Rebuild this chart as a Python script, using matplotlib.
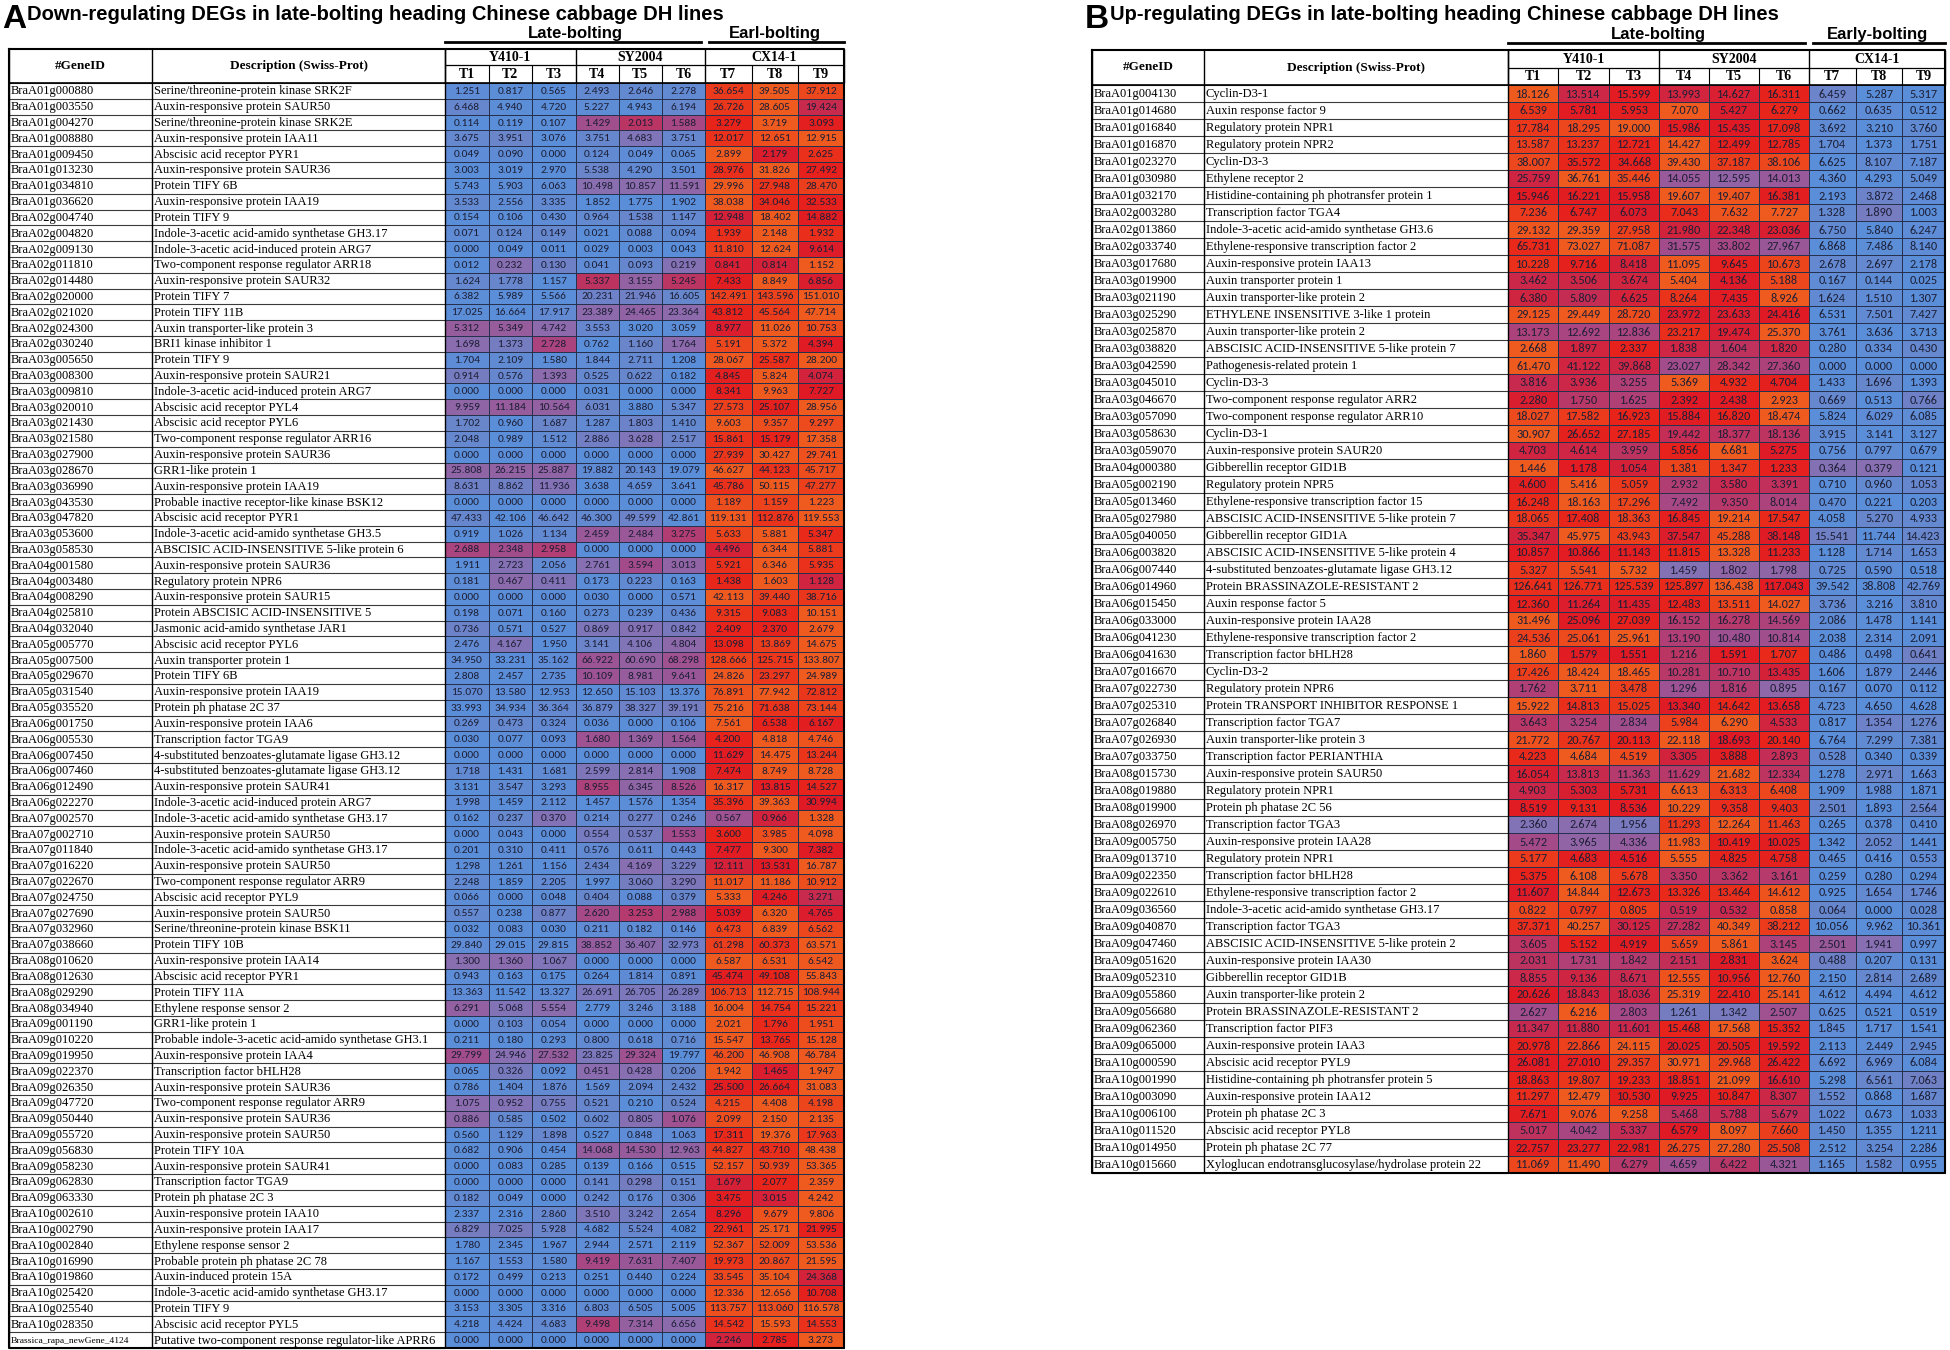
import numpy as np
import matplotlib.pyplot as plt
from matplotlib import font_manager
from matplotlib.colors import LinearSegmentedColormap

# ---------------- data ----------------
samples = ['T1', 'T2', 'T3', 'T4', 'T5', 'T6', 'T7', 'T8', 'T9']
lines = ['Y410-1', 'SY2004', 'CX14-1']

left_ids = [
    'BraA01g000880', 'BraA01g003550', 'BraA01g004270', 'BraA01g008880', 'BraA01g009450',
    'BraA01g013230', 'BraA01g034810', 'BraA01g036620', 'BraA02g004740', 'BraA02g004820',
    'BraA02g009130', 'BraA02g011810', 'BraA02g014480', 'BraA02g020000', 'BraA02g021020',
    'BraA02g024300', 'BraA02g030240', 'BraA03g005650', 'BraA03g008300', 'BraA03g009810',
    'BraA03g020010', 'BraA03g021430', 'BraA03g021580', 'BraA03g027900', 'BraA03g028670',
    'BraA03g036990', 'BraA03g043530', 'BraA03g047820', 'BraA03g053600', 'BraA03g058530',
    'BraA04g001580', 'BraA04g003480', 'BraA04g008290', 'BraA04g025810', 'BraA04g032040',
    'BraA05g005770', 'BraA05g007500', 'BraA05g029670', 'BraA05g031540', 'BraA05g035520',
    'BraA06g001750', 'BraA06g005530', 'BraA06g007450', 'BraA06g007460', 'BraA06g012490',
    'BraA06g022270', 'BraA07g002570', 'BraA07g002710', 'BraA07g011840', 'BraA07g016220',
    'BraA07g022670', 'BraA07g024750', 'BraA07g027690', 'BraA07g032960', 'BraA07g038660',
    'BraA08g010620', 'BraA08g012630', 'BraA08g029290', 'BraA08g034940', 'BraA09g001190',
    'BraA09g010220', 'BraA09g019950', 'BraA09g022370', 'BraA09g026350', 'BraA09g047720',
    'BraA09g050440', 'BraA09g055720', 'BraA09g056830', 'BraA09g058230', 'BraA09g062830',
    'BraA09g063330', 'BraA10g002610', 'BraA10g002790', 'BraA10g002840', 'BraA10g016990',
    'BraA10g019860', 'BraA10g025420', 'BraA10g025540', 'BraA10g028350',
    'Brassica_rapa_newGene_4124']

left_desc = [
    'Serine/threonine-protein kinase SRK2F', 'Auxin-responsive protein SAUR50',
    'Serine/threonine-protein kinase SRK2E', 'Auxin-responsive protein IAA11',
    'Abscisic acid receptor PYR1', 'Auxin-responsive protein SAUR36', 'Protein TIFY 6B',
    'Auxin-responsive protein IAA19', 'Protein TIFY 9',
    'Indole-3-acetic acid-amido synthetase GH3.17', 'Indole-3-acetic acid-induced protein ARG7',
    'Two-component response regulator ARR18', 'Auxin-responsive protein SAUR32', 'Protein TIFY 7',
    'Protein TIFY 11B', 'Auxin transporter-like protein 3', 'BRI1 kinase inhibitor 1',
    'Protein TIFY 9', 'Auxin-responsive protein SAUR21', 'Indole-3-acetic acid-induced protein ARG7',
    'Abscisic acid receptor PYL4', 'Abscisic acid receptor PYL6',
    'Two-component response regulator ARR16', 'Auxin-responsive protein SAUR36',
    'GRR1-like protein 1', 'Auxin-responsive protein IAA19',
    'Probable inactive receptor-like kinase BSK12', 'Abscisic acid receptor PYR1',
    'Indole-3-acetic acid-amido synthetase GH3.5', 'ABSCISIC ACID-INSENSITIVE 5-like protein 6',
    'Auxin-responsive protein SAUR36', 'Regulatory protein NPR6', 'Auxin-responsive protein SAUR15',
    'Protein ABSCISIC ACID-INSENSITIVE 5', 'Jasmonic acid-amido synthetase JAR1',
    'Abscisic acid receptor PYL6', 'Auxin transporter protein 1', 'Protein TIFY 6B',
    'Auxin-responsive protein IAA19', 'Protein ph phatase 2C 37', 'Auxin-responsive protein IAA6',
    'Transcription factor TGA9', '4-substituted benzoates-glutamate ligase GH3.12',
    '4-substituted benzoates-glutamate ligase GH3.12', 'Auxin-responsive protein SAUR41',
    'Indole-3-acetic acid-induced protein ARG7', 'Indole-3-acetic acid-amido synthetase GH3.17',
    'Auxin-responsive protein SAUR50', 'Indole-3-acetic acid-amido synthetase GH3.17',
    'Auxin-responsive protein SAUR50', 'Two-component response regulator ARR9',
    'Abscisic acid receptor PYL9', 'Auxin-responsive protein SAUR50',
    'Serine/threonine-protein kinase BSK11', 'Protein TIFY 10B', 'Auxin-responsive protein IAA14',
    'Abscisic acid receptor PYR1', 'Protein TIFY 11A', 'Ethylene response sensor 2',
    'GRR1-like protein 1', 'Probable indole-3-acetic acid-amido synthetase GH3.1',
    'Auxin-responsive protein IAA4', 'Transcription factor bHLH28', 'Auxin-responsive protein SAUR36',
    'Two-component response regulator ARR9', 'Auxin-responsive protein SAUR36',
    'Auxin-responsive protein SAUR50', 'Protein TIFY 10A', 'Auxin-responsive protein SAUR41',
    'Transcription factor TGA9', 'Protein ph phatase 2C 3', 'Auxin-responsive protein IAA10',
    'Auxin-responsive protein IAA17', 'Ethylene response sensor 2',
    'Probable protein ph phatase 2C 78', 'Auxin-induced protein 15A',
    'Indole-3-acetic acid-amido synthetase GH3.17', 'Protein TIFY 9', 'Abscisic acid receptor PYL5',
    'Putative two-component response regulator-like APRR6']

left_vals = [
    [1.251, 0.817, 0.565, 2.493, 2.646, 2.278, 36.654, 39.505, 37.912],
    [6.468, 4.940, 4.720, 5.227, 4.943, 6.194, 26.726, 28.605, 19.424],
    [0.114, 0.119, 0.107, 1.429, 2.013, 1.588, 3.279, 3.719, 3.093],
    [3.675, 3.951, 3.076, 3.751, 4.683, 3.751, 12.017, 12.651, 12.915],
    [0.049, 0.090, 0.000, 0.124, 0.049, 0.065, 2.899, 2.179, 2.625],
    [3.003, 3.019, 2.970, 5.538, 4.290, 3.501, 28.976, 31.826, 27.492],
    [5.743, 5.903, 6.063, 10.498, 10.857, 11.591, 29.996, 27.948, 28.470],
    [3.533, 2.556, 3.335, 1.852, 1.775, 1.902, 38.038, 34.046, 32.533],
    [0.154, 0.106, 0.430, 0.964, 1.538, 1.147, 12.948, 18.402, 14.882],
    [0.071, 0.124, 0.149, 0.021, 0.088, 0.094, 1.939, 2.148, 1.932],
    [0.000, 0.049, 0.011, 0.029, 0.003, 0.043, 11.810, 12.624, 9.614],
    [0.012, 0.232, 0.130, 0.041, 0.093, 0.219, 0.841, 0.814, 1.152],
    [1.624, 1.778, 1.157, 5.337, 3.155, 5.245, 7.433, 8.849, 6.856],
    [6.382, 5.989, 5.566, 20.231, 21.946, 16.605, 142.491, 143.596, 151.010],
    [17.025, 16.664, 17.917, 23.389, 24.465, 23.364, 43.812, 45.564, 47.714],
    [5.312, 5.349, 4.742, 3.553, 3.020, 3.059, 8.977, 11.026, 10.753],
    [1.698, 1.373, 2.728, 0.762, 1.160, 1.764, 5.191, 5.372, 4.394],
    [1.704, 2.109, 1.580, 1.844, 2.711, 1.208, 28.067, 25.587, 28.200],
    [0.914, 0.576, 1.393, 0.525, 0.622, 0.182, 4.845, 5.824, 4.074],
    [0.000, 0.000, 0.000, 0.031, 0.000, 0.000, 8.341, 9.963, 7.727],
    [9.959, 11.184, 10.564, 6.031, 3.880, 5.347, 27.573, 25.107, 28.956],
    [1.702, 0.960, 1.687, 1.287, 1.803, 1.410, 9.603, 9.357, 9.297],
    [2.048, 0.989, 1.512, 2.886, 3.628, 2.517, 15.861, 15.179, 17.358],
    [0.000, 0.000, 0.000, 0.000, 0.000, 0.000, 27.939, 30.427, 29.741],
    [25.808, 26.215, 25.887, 19.882, 20.143, 19.079, 46.627, 44.123, 45.717],
    [8.631, 8.862, 11.936, 3.638, 4.659, 3.641, 45.786, 50.115, 47.277],
    [0.000, 0.000, 0.000, 0.000, 0.000, 0.000, 1.189, 1.159, 1.223],
    [47.433, 42.106, 46.642, 46.300, 49.599, 42.861, 119.131, 112.876, 119.553],
    [0.919, 1.026, 1.134, 2.459, 2.484, 3.275, 5.633, 5.881, 5.347],
    [2.688, 2.348, 2.958, 0.000, 0.000, 0.000, 4.496, 6.344, 5.881],
    [1.911, 2.723, 2.056, 2.761, 3.594, 3.013, 5.921, 6.346, 5.935],
    [0.181, 0.467, 0.411, 0.173, 0.223, 0.163, 1.438, 1.603, 1.128],
    [0.000, 0.000, 0.000, 0.030, 0.000, 0.571, 42.113, 39.440, 38.716],
    [0.198, 0.071, 0.160, 0.273, 0.239, 0.436, 9.315, 9.083, 10.151],
    [0.736, 0.571, 0.527, 0.869, 0.917, 0.842, 2.409, 2.370, 2.679],
    [2.476, 4.167, 1.950, 3.141, 4.106, 4.804, 13.098, 13.869, 14.675],
    [34.950, 33.231, 35.162, 66.922, 60.690, 68.298, 128.666, 125.715, 133.807],
    [2.808, 2.457, 2.735, 10.109, 8.981, 9.641, 24.826, 23.297, 24.989],
    [15.070, 13.580, 12.953, 12.650, 15.103, 13.376, 76.891, 77.942, 72.812],
    [33.993, 34.934, 36.364, 36.879, 38.327, 39.191, 75.216, 71.638, 73.144],
    [0.269, 0.473, 0.324, 0.036, 0.000, 0.106, 7.561, 6.538, 6.167],
    [0.030, 0.077, 0.093, 1.680, 1.369, 1.564, 4.200, 4.818, 4.746],
    [0.000, 0.000, 0.000, 0.000, 0.000, 0.000, 11.629, 14.475, 13.244],
    [1.718, 1.431, 1.681, 2.599, 2.814, 1.908, 7.474, 8.749, 8.728],
    [3.131, 3.547, 3.293, 8.955, 6.345, 8.526, 16.317, 13.815, 14.527],
    [1.998, 1.459, 2.112, 1.457, 1.576, 1.354, 35.396, 39.363, 30.994],
    [0.162, 0.237, 0.370, 0.214, 0.277, 0.246, 0.567, 0.966, 1.328],
    [0.000, 0.043, 0.000, 0.554, 0.537, 1.553, 3.600, 3.985, 4.098],
    [0.201, 0.310, 0.411, 0.576, 0.611, 0.443, 7.477, 9.300, 7.382],
    [1.298, 1.261, 1.156, 2.434, 4.169, 3.229, 12.111, 13.531, 16.787],
    [2.248, 1.859, 2.205, 1.997, 3.060, 3.290, 11.017, 11.186, 10.912],
    [0.066, 0.000, 0.048, 0.404, 0.088, 0.379, 5.333, 4.246, 3.271],
    [0.557, 0.238, 0.877, 2.620, 3.253, 2.988, 5.039, 6.320, 4.765],
    [0.032, 0.083, 0.030, 0.211, 0.182, 0.146, 6.473, 6.839, 6.562],
    [29.840, 29.015, 29.815, 38.852, 36.407, 32.973, 61.298, 60.373, 63.571],
    [1.300, 1.360, 1.067, 0.000, 0.000, 0.000, 6.587, 6.531, 6.542],
    [0.943, 0.163, 0.175, 0.264, 1.814, 0.891, 45.474, 49.108, 55.843],
    [13.363, 11.542, 13.327, 26.691, 26.705, 26.289, 106.713, 112.715, 108.944],
    [6.291, 5.068, 5.554, 2.779, 3.246, 3.188, 16.004, 14.754, 15.221],
    [0.000, 0.103, 0.054, 0.000, 0.000, 0.000, 2.021, 1.796, 1.951],
    [0.211, 0.180, 0.293, 0.800, 0.618, 0.716, 15.547, 13.765, 15.128],
    [29.799, 24.946, 27.532, 23.825, 29.324, 19.797, 46.200, 46.908, 46.784],
    [0.065, 0.326, 0.092, 0.451, 0.428, 0.206, 1.942, 1.465, 1.947],
    [0.786, 1.404, 1.876, 1.569, 2.094, 2.432, 25.500, 26.664, 31.083],
    [1.075, 0.952, 0.755, 0.521, 0.210, 0.524, 4.215, 4.408, 4.198],
    [0.886, 0.585, 0.502, 0.602, 0.805, 1.076, 2.099, 2.150, 2.135],
    [0.560, 1.129, 1.898, 0.527, 0.848, 1.063, 17.311, 19.376, 17.963],
    [0.682, 0.906, 0.454, 14.068, 14.530, 12.963, 44.827, 43.710, 48.438],
    [0.000, 0.083, 0.285, 0.139, 0.166, 0.515, 52.157, 50.939, 53.365],
    [0.000, 0.000, 0.000, 0.141, 0.298, 0.151, 1.679, 2.077, 2.359],
    [0.182, 0.049, 0.000, 0.242, 0.176, 0.306, 3.475, 3.015, 4.242],
    [2.337, 2.316, 2.860, 3.510, 3.242, 2.654, 8.296, 9.679, 9.806],
    [6.829, 7.025, 5.928, 4.682, 5.524, 4.082, 22.961, 25.171, 21.995],
    [1.780, 2.345, 1.967, 2.944, 2.571, 2.119, 52.367, 52.009, 53.536],
    [1.167, 1.553, 1.580, 9.419, 7.631, 7.407, 19.973, 20.867, 21.595],
    [0.172, 0.499, 0.213, 0.251, 0.440, 0.224, 33.545, 35.104, 24.368],
    [0.000, 0.000, 0.000, 0.000, 0.000, 0.000, 12.336, 12.656, 10.708],
    [3.153, 3.305, 3.316, 6.803, 6.505, 5.005, 113.757, 113.060, 116.578],
    [4.218, 4.424, 4.683, 9.498, 7.314, 6.656, 14.542, 15.593, 14.553],
    [0.000, 0.000, 0.000, 0.000, 0.000, 0.000, 2.246, 2.785, 3.273]]

right_ids = [
    'BraA01g004130', 'BraA01g014680', 'BraA01g016840', 'BraA01g016870', 'BraA01g023270',
    'BraA01g030980', 'BraA01g032170', 'BraA02g003280', 'BraA02g013860', 'BraA02g033740',
    'BraA03g017680', 'BraA03g019900', 'BraA03g021190', 'BraA03g025290', 'BraA03g025870',
    'BraA03g038820', 'BraA03g042590', 'BraA03g045010', 'BraA03g046670', 'BraA03g057090',
    'BraA03g058630', 'BraA03g059070', 'BraA04g000380', 'BraA05g002190', 'BraA05g013460',
    'BraA05g027980', 'BraA05g040050', 'BraA06g003820', 'BraA06g007440', 'BraA06g014960',
    'BraA06g015450', 'BraA06g033000', 'BraA06g041230', 'BraA06g041630', 'BraA07g016670',
    'BraA07g022730', 'BraA07g025310', 'BraA07g026840', 'BraA07g026930', 'BraA07g033750',
    'BraA08g015730', 'BraA08g019880', 'BraA08g019900', 'BraA08g026970', 'BraA09g005750',
    'BraA09g013710', 'BraA09g022350', 'BraA09g022610', 'BraA09g036560', 'BraA09g040870',
    'BraA09g047460', 'BraA09g051620', 'BraA09g052310', 'BraA09g055860', 'BraA09g056680',
    'BraA09g062360', 'BraA09g065000', 'BraA10g000590', 'BraA10g001990', 'BraA10g003090',
    'BraA10g006100', 'BraA10g011520', 'BraA10g014950', 'BraA10g015660']

right_desc = [
    'Cyclin-D3-1', 'Auxin response factor 9', 'Regulatory protein NPR1', 'Regulatory protein NPR2',
    'Cyclin-D3-3', 'Ethylene receptor 2', 'Histidine-containing ph photransfer protein 1',
    'Transcription factor TGA4', 'Indole-3-acetic acid-amido synthetase GH3.6',
    'Ethylene-responsive transcription factor 2', 'Auxin-responsive protein IAA13',
    'Auxin transporter protein 1', 'Auxin transporter-like protein 2',
    'ETHYLENE INSENSITIVE 3-like 1 protein', 'Auxin transporter-like protein 2',
    'ABSCISIC ACID-INSENSITIVE 5-like protein 7', 'Pathogenesis-related protein 1', 'Cyclin-D3-3',
    'Two-component response regulator ARR2', 'Two-component response regulator ARR10',
    'Cyclin-D3-1', 'Auxin-responsive protein SAUR20', 'Gibberellin receptor GID1B',
    'Regulatory protein NPR5', 'Ethylene-responsive transcription factor 15',
    'ABSCISIC ACID-INSENSITIVE 5-like protein 7', 'Gibberellin receptor GID1A',
    'ABSCISIC ACID-INSENSITIVE 5-like protein 4', '4-substituted benzoates-glutamate ligase GH3.12',
    'Protein BRASSINAZOLE-RESISTANT 2', 'Auxin response factor 5', 'Auxin-responsive protein IAA28',
    'Ethylene-responsive transcription factor 2', 'Transcription factor bHLH28', 'Cyclin-D3-2',
    'Regulatory protein NPR6', 'Protein TRANSPORT INHIBITOR RESPONSE 1', 'Transcription factor TGA7',
    'Auxin transporter-like protein 3', 'Transcription factor PERIANTHIA',
    'Auxin-responsive protein SAUR50', 'Regulatory protein NPR1', 'Protein ph phatase 2C 56',
    'Transcription factor TGA3', 'Auxin-responsive protein IAA28', 'Regulatory protein NPR1',
    'Transcription factor bHLH28', 'Ethylene-responsive transcription factor 2',
    'Indole-3-acetic acid-amido synthetase GH3.17', 'Transcription factor TGA3',
    'ABSCISIC ACID-INSENSITIVE 5-like protein 2', 'Auxin-responsive protein IAA30',
    'Gibberellin receptor GID1B', 'Auxin transporter-like protein 2',
    'Protein BRASSINAZOLE-RESISTANT 2', 'Transcription factor PIF3', 'Auxin-responsive protein IAA3',
    'Abscisic acid receptor PYL9', 'Histidine-containing ph photransfer protein 5',
    'Auxin-responsive protein IAA12', 'Protein ph phatase 2C 3', 'Abscisic acid receptor PYL8',
    'Protein ph phatase 2C 77', 'Xyloglucan endotransglucosylase/hydrolase protein 22']

right_vals = [
    [18.126, 13.514, 15.599, 13.993, 14.627, 16.311, 6.459, 5.287, 5.317],
    [6.539, 5.781, 5.953, 7.070, 5.427, 6.279, 0.662, 0.635, 0.512],
    [17.784, 18.295, 19.000, 15.986, 15.435, 17.098, 3.692, 3.210, 3.760],
    [13.587, 13.237, 12.721, 14.427, 12.499, 12.785, 1.704, 1.373, 1.751],
    [38.007, 35.572, 34.668, 39.430, 37.187, 38.106, 6.625, 8.107, 7.187],
    [25.759, 36.761, 35.446, 14.055, 12.595, 14.013, 4.360, 4.293, 5.049],
    [15.946, 16.221, 15.958, 19.607, 19.407, 16.381, 2.193, 3.872, 2.468],
    [7.236, 6.747, 6.073, 7.043, 7.632, 7.727, 1.328, 1.890, 1.003],
    [29.132, 29.359, 27.958, 21.980, 22.348, 23.036, 6.750, 5.840, 6.247],
    [65.731, 73.027, 71.087, 31.575, 33.802, 27.967, 6.868, 7.486, 8.140],
    [10.228, 9.716, 8.418, 11.095, 9.645, 10.673, 2.678, 2.697, 2.178],
    [3.462, 3.506, 3.674, 5.404, 4.136, 5.188, 0.167, 0.144, 0.025],
    [6.380, 5.809, 6.625, 8.264, 7.435, 8.926, 1.624, 1.510, 1.307],
    [29.125, 29.449, 28.720, 23.972, 23.633, 24.416, 6.531, 7.501, 7.427],
    [13.173, 12.692, 12.836, 23.217, 19.474, 25.370, 3.761, 3.636, 3.713],
    [2.668, 1.897, 2.337, 1.838, 1.604, 1.820, 0.280, 0.334, 0.430],
    [61.470, 41.122, 39.868, 23.027, 28.342, 27.360, 0.000, 0.000, 0.000],
    [3.816, 3.936, 3.255, 5.369, 4.932, 4.704, 1.433, 1.696, 1.393],
    [2.280, 1.750, 1.625, 2.392, 2.438, 2.923, 0.669, 0.513, 0.766],
    [18.027, 17.582, 16.923, 15.884, 16.820, 18.474, 5.824, 6.029, 6.085],
    [30.907, 26.652, 27.185, 19.442, 18.377, 18.136, 3.915, 3.141, 3.127],
    [4.703, 4.614, 3.959, 5.856, 6.681, 5.275, 0.756, 0.797, 0.679],
    [1.446, 1.178, 1.054, 1.381, 1.347, 1.233, 0.364, 0.379, 0.121],
    [4.600, 5.416, 5.059, 2.932, 3.580, 3.391, 0.710, 0.960, 1.053],
    [16.248, 18.163, 17.296, 7.492, 9.350, 8.014, 0.470, 0.221, 0.203],
    [18.065, 17.408, 18.363, 16.845, 19.214, 17.547, 4.058, 5.270, 4.933],
    [35.347, 45.975, 43.943, 37.547, 45.288, 38.148, 15.541, 11.744, 14.423],
    [10.857, 10.866, 11.143, 11.815, 13.328, 11.233, 1.128, 1.714, 1.653],
    [5.327, 5.541, 5.732, 1.459, 1.802, 1.798, 0.725, 0.590, 0.518],
    [126.641, 126.771, 125.539, 125.897, 136.438, 117.043, 39.542, 38.808, 42.769],
    [12.360, 11.264, 11.435, 12.483, 13.511, 14.027, 3.736, 3.216, 3.810],
    [31.496, 25.096, 27.039, 16.152, 16.278, 14.569, 2.086, 1.478, 1.141],
    [24.536, 25.061, 25.961, 13.190, 10.480, 10.814, 2.038, 2.314, 2.091],
    [1.860, 1.579, 1.551, 1.216, 1.591, 1.707, 0.486, 0.498, 0.641],
    [17.426, 18.424, 18.465, 10.281, 10.710, 13.435, 1.606, 1.879, 2.446],
    [1.762, 3.711, 3.478, 1.296, 1.816, 0.895, 0.167, 0.070, 0.112],
    [15.922, 14.813, 15.025, 13.340, 14.642, 13.658, 4.723, 4.650, 4.628],
    [3.643, 3.254, 2.834, 5.984, 6.290, 4.533, 0.817, 1.354, 1.276],
    [21.772, 20.767, 20.113, 22.118, 18.693, 20.140, 6.764, 7.299, 7.381],
    [4.223, 4.684, 4.519, 3.305, 3.888, 2.893, 0.528, 0.340, 0.339],
    [16.054, 13.813, 11.363, 11.629, 21.682, 12.334, 1.278, 2.971, 1.663],
    [4.903, 5.303, 5.731, 6.613, 6.313, 6.408, 1.909, 1.988, 1.871],
    [8.519, 9.131, 8.536, 10.229, 9.358, 9.403, 2.501, 1.893, 2.564],
    [2.360, 2.674, 1.956, 11.293, 12.264, 11.463, 0.265, 0.378, 0.410],
    [5.472, 3.965, 4.336, 11.983, 10.419, 10.025, 1.342, 2.052, 1.441],
    [5.177, 4.683, 4.516, 5.555, 4.825, 4.758, 0.465, 0.416, 0.553],
    [5.375, 6.108, 5.678, 3.350, 3.362, 3.161, 0.259, 0.280, 0.294],
    [11.607, 14.844, 12.673, 13.326, 13.464, 14.612, 0.925, 1.654, 1.746],
    [0.822, 0.797, 0.805, 0.519, 0.532, 0.858, 0.064, 0.000, 0.028],
    [37.371, 40.257, 30.125, 27.282, 40.349, 38.212, 10.056, 9.962, 10.361],
    [3.605, 5.152, 4.919, 5.659, 5.861, 3.145, 2.501, 1.941, 0.997],
    [2.031, 1.731, 1.842, 2.151, 2.831, 3.624, 0.488, 0.207, 0.131],
    [8.855, 9.136, 8.671, 12.555, 10.956, 12.760, 2.150, 2.814, 2.689],
    [20.626, 18.843, 18.036, 25.319, 22.410, 25.141, 4.612, 4.494, 4.612],
    [2.627, 6.216, 2.803, 1.261, 1.342, 2.507, 0.625, 0.521, 0.519],
    [11.347, 11.880, 11.601, 15.468, 17.568, 15.352, 1.845, 1.717, 1.541],
    [20.978, 22.866, 24.115, 20.025, 20.505, 19.592, 2.113, 2.449, 2.945],
    [26.081, 27.010, 29.357, 30.971, 29.968, 26.422, 6.692, 6.969, 6.084],
    [18.863, 19.807, 19.233, 18.851, 21.099, 16.610, 5.298, 6.561, 7.063],
    [11.297, 12.479, 10.530, 9.925, 10.847, 8.307, 1.552, 0.868, 1.687],
    [7.671, 9.076, 9.258, 5.468, 5.788, 5.679, 1.022, 0.673, 1.033],
    [5.017, 4.042, 5.337, 6.579, 8.097, 7.660, 1.450, 1.355, 1.211],
    [22.757, 23.277, 22.981, 26.275, 27.280, 25.508, 2.512, 3.254, 2.286],
    [11.069, 11.490, 6.279, 4.659, 6.422, 4.321, 1.165, 1.582, 0.955]]


# ---------------- fonts ----------------
def pick(names):
    for n in names:
        try:
            font_manager.findfont(n, fallback_to_default=False)
            return n
        except Exception:
            pass
    return 'DejaVu Sans'

SERIF = pick(['Liberation Serif', 'DejaVu Serif'])
NARROW = pick(['Liberation Sans Narrow', 'Liberation Sans'])
SANS = pick(['Liberation Sans', 'DejaVu Sans'])
NUM = pick(['Carlito', 'Lato', 'Open Sans'])

# per-row colour scale: blue (low) -> purple -> crimson -> red -> orange (high)
cmap = LinearSegmentedColormap.from_list('deg', [
    (0.00, '#5b8ed8'), (0.08, '#6886cc'), (0.20, '#8a6daf'), (0.38, '#a34b8a'),
    (0.60, '#c62b52'), (0.78, '#e01a24'), (0.88, '#e8241a'), (1.00, '#ef5a1e')])

fig = plt.figure(figsize=(19.5, 13.5), dpi=100)
ax = fig.add_axes([0, 0, 1, 1])
ax.set_xlim(0, 1950)
ax.set_ylim(1350, 0)
ax.axis('off')


def draw_table(ids, desc, vals, xe, top, mid, y0, y1, letter, title, early_label, fs_num):
    vals = np.array(vals)
    n = len(ids)
    ye = np.linspace(y0, y1, n + 1)
    lo = vals.min(axis=1, keepdims=True)
    hi = vals.max(axis=1, keepdims=True)
    norm = (vals - lo) / np.where(hi > lo, hi - lo, 1)

    ax.pcolormesh(xe[2:], ye, norm, cmap=cmap, vmin=0, vmax=1,
                  edgecolors='#26314d', linewidth=0.7)

    # text columns
    ax.hlines(ye, xe[0], xe[2], colors='#3a3a3a', lw=0.8)
    ax.vlines([xe[0], xe[1], xe[2]], top, y1, colors='black', lw=1.0)
    # header
    ax.hlines([top, y0], xe[0], xe[-1], colors='black', lw=1.2)
    ax.hlines(mid, xe[2], xe[-1], colors='black', lw=0.9)
    ax.vlines([xe[2], xe[5], xe[8], xe[11]], top, y0, colors='black', lw=1.0)
    ax.vlines([xe[3], xe[4], xe[6], xe[7], xe[9], xe[10]], mid, y0, colors='black', lw=0.8)
    ax.plot([xe[0], xe[-1], xe[-1], xe[0], xe[0]], [top, top, y1, y1, top],
            color='black', lw=1.5)

    ax.text((xe[0] + xe[1]) / 2, (top + y0) / 2, '#GeneID', family=SERIF,
            weight='bold', fontsize=9.5, ha='center', va='center')
    ax.text((xe[1] + xe[2]) / 2, (top + y0) / 2, 'Description (Swiss-Prot)', family=SERIF,
            weight='bold', fontsize=9.5, ha='center', va='center')
    for g, name in enumerate(lines):
        ax.text((xe[2 + 3 * g] + xe[5 + 3 * g]) / 2, (top + mid) / 2 + 0.5, name,
                family=SERIF, weight='bold', fontsize=10, ha='center', va='center')
    for j, s in enumerate(samples):
        ax.text((xe[2 + j] + xe[3 + j]) / 2, (mid + y0) / 2 + 0.5, s,
                family=SERIF, weight='bold', fontsize=10, ha='center', va='center')

    for i in range(n):
        yc = (ye[i] + ye[i + 1]) / 2 + 0.5
        fsid = 9 if len(ids[i]) < 16 else 6.8
        ax.text(xe[0] + 2, yc, ids[i], family=SERIF, fontsize=fsid, ha='left', va='center')
        ax.text(xe[1] + 2, yc, desc[i], family=SERIF, fontsize=9, ha='left', va='center')
        for j in range(9):
            ax.text((xe[2 + j] + xe[3 + j]) / 2, yc, f'{vals[i, j]:.3f}', family=NUM,
                    fontsize=fs_num, ha='center', va='center', color='#1d1f36')

    # group labels above the header
    ax.text((xe[2] + xe[8]) / 2, top - 11, 'Late-bolting', family=NARROW, weight='bold',
            fontsize=12, ha='center', va='baseline')
    ax.text((xe[8] + xe[11]) / 2, top - 11, early_label, family=NARROW, weight='bold',
            fontsize=12, ha='center', va='baseline')
    ax.plot([xe[2], xe[8] - 4], [top - 7, top - 7], color='black', lw=2)
    ax.plot([xe[8] + 4, xe[11]], [top - 7, top - 7], color='black', lw=2)

    # panel letter and title
    ax.text(xe[0] - 7, 28, letter, family=SANS, weight='bold', fontsize=24,
            ha='left', va='baseline')
    ax.text(xe[0] + 18, 20, title, family=NARROW, weight='bold', fontsize=14.5,
            ha='left', va='baseline')


left_edges = [8.7, 152, 445, 488.5, 532, 575.5, 618.5, 662, 705, 751.5, 798, 844]
right_edges = [1092, 1204, 1508, 1558.3, 1609, 1659, 1709, 1759, 1809, 1855.7, 1902.3, 1945]

draw_table(left_ids, left_desc, left_vals, left_edges, 49, 65, 83, 1348, 'A',
           'Down-regulating DEGs in late-bolting heading Chinese cabbage DH lines',
           'Earl-bolting', 8.2)
draw_table(right_ids, right_desc, right_vals, right_edges, 50, 68, 85, 1173, 'B',
           'Up-regulating DEGs in late-bolting heading Chinese cabbage DH lines',
           'Early-bolting', 8.8)

fig.savefig('out.png', dpi=100, facecolor='white')
